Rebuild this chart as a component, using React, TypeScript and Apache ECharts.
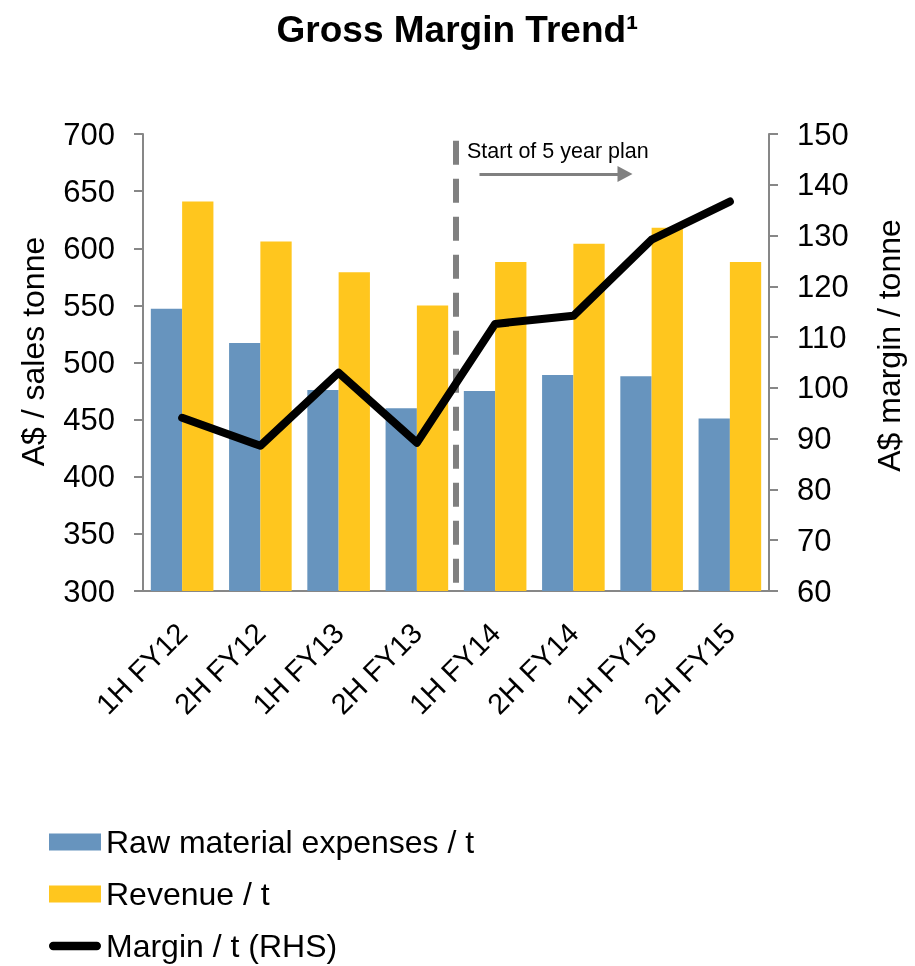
import React, { useEffect, useRef } from "react";
import * as echarts from "echarts";

const categories = ["1H FY12", "2H FY12", "1H FY13", "2H FY13", "1H FY14", "2H FY14", "1H FY15", "2H FY15"];
const rawMaterial = [547, 517, 476, 460, 475, 489, 488, 451];
const revenue = [641, 606, 579, 550, 588, 604, 618, 588];
const margin = [94.1, 88.6, 103, 89.2, 112.6, 114.2, 129.2, 136.7];
const leftTicks = { min: 300, max: 700, interval: 50 };
const rightTicks = { min: 60, max: 150, interval: 10 };
const planStart = 4; // category boundary index
const planArrow = { from: 4.3, to: 6.16, level: 665 };
const planLineTop = 694;

const FONT = "'Liberation Sans', Arial, sans-serif";
const GRAY = "#878787";
const LINE_ICON = "path://M0,0M56,17M4.5,4L51.5,4A4.5,4.5,0,0,1,51.5,13L4.5,13A4.5,4.5,0,0,1,4.5,4Z";

export default function App() {
  const ref = useRef<HTMLDivElement>(null);
  useEffect(() => {
    const chart = echarts.init(ref.current!, null, { renderer: "svg" });
    chart.setOption({
      animation: false,
      textStyle: { fontFamily: FONT },
      title: {
        text: "Gross Margin Trend¹",
        left: "center",
        top: 6,
        textStyle: { fontFamily: FONT, fontSize: 37, fontWeight: "bold", color: "#000" },
      },
      grid: { left: 143, right: 146, top: 134, bottom: 375 },
      legend: {
        orient: "vertical",
        left: 49,
        top: 826,
        height: 140,
        padding: 0,
        itemWidth: 52,
        itemHeight: 17,
        itemGap: 20,
        textStyle: { fontFamily: FONT, fontSize: 32, color: "#000", lineHeight: 31 },
        data: [
          { name: "Raw material expenses / t", icon: "rect" },
          { name: "Revenue / t", icon: "rect" },
          { name: "Margin / t (RHS)", icon: LINE_ICON, itemStyle: { color: "#000" } },
        ],
      },
      xAxis: [
        {
          type: "category",
          data: categories,
          axisLine: { lineStyle: { color: GRAY, width: 2 } },
          axisTick: { length: 10, lineStyle: { color: GRAY, width: 2 } },
          axisLabel: { rotate: 45, fontSize: 29, color: "#000", margin: 37, fontFamily: FONT },
        },
        { type: "value", min: 0, max: 8, show: false },
      ],
      yAxis: [
        {
          type: "value",
          ...leftTicks,
          name: "A$ / sales tonne",
          nameLocation: "middle",
          nameRotate: 90,
          nameGap: 94,
          nameTextStyle: { fontSize: 32, color: "#000", fontFamily: FONT, padding: [0, 0, 0, 22] },
          axisLine: { show: true, lineStyle: { color: GRAY, width: 2 } },
          axisTick: { show: true, length: 9, lineStyle: { color: GRAY, width: 2 } },
          axisLabel: { fontSize: 31, color: "#000", margin: 28, fontFamily: FONT },
          splitLine: { show: false },
        },
        {
          type: "value",
          ...rightTicks,
          position: "right",
          name: "A$ margin / tonne",
          nameLocation: "middle",
          nameRotate: 90,
          nameGap: 104,
          nameTextStyle: { fontSize: 32, color: "#000", fontFamily: FONT, padding: [0, 0, 0, 34] },
          axisLine: { show: true, lineStyle: { color: GRAY, width: 2 } },
          axisTick: { show: true, length: 9, lineStyle: { color: GRAY, width: 2 } },
          axisLabel: { fontSize: 31, color: "#000", margin: 28, fontFamily: FONT },
          splitLine: { show: false },
        },
      ],
      series: [
        {
          name: "Raw material expenses / t",
          type: "bar",
          data: rawMaterial,
          itemStyle: { color: "#6794BE" },
          barGap: "0%",
          barCategoryGap: "20%",
        },
        {
          name: "Revenue / t",
          type: "bar",
          data: revenue,
          itemStyle: { color: "#FFC61E" },
        },
        {
          name: "annot",
          type: "line",
          xAxisIndex: 1,
          yAxisIndex: 0,
          data: [],
          silent: true,
          markLine: {
            silent: true,
            data: [
              [
                { coord: [planStart, planLineTop], symbol: "none", lineStyle: { color: "#808080", width: 6, type: [24, 14] } },
                { coord: [planStart, leftTicks.min], symbol: "none" },
              ],
              [
                { coord: [planArrow.from, planArrow.level], symbol: "none", lineStyle: { color: "#808080", width: 3, type: "solid" } },
                { coord: [planArrow.to, planArrow.level], symbol: "triangle", symbolSize: [16, 15] },
              ],
            ],
            label: { show: false },
          },
        },
        {
          name: "Margin / t (RHS)",
          type: "line",
          yAxisIndex: 1,
          data: margin,
          symbol: "none",
          itemStyle: { color: "#000" },
          lineStyle: { color: "#000", width: 8, cap: "round", join: "round" },
          z: 5,
        },
      ],
      graphic: [
        {
          type: "text",
          left: 467,
          top: 140,
          style: { text: "Start of 5 year plan", fontSize: 21.5, fontFamily: FONT, fill: "#000" },
        },
      ],
    });
    return () => chart.dispose();
  }, []);
  return <div ref={ref} style={{ position: "fixed", left: 0, top: 0, width: 915, height: 966 }} />;
}
